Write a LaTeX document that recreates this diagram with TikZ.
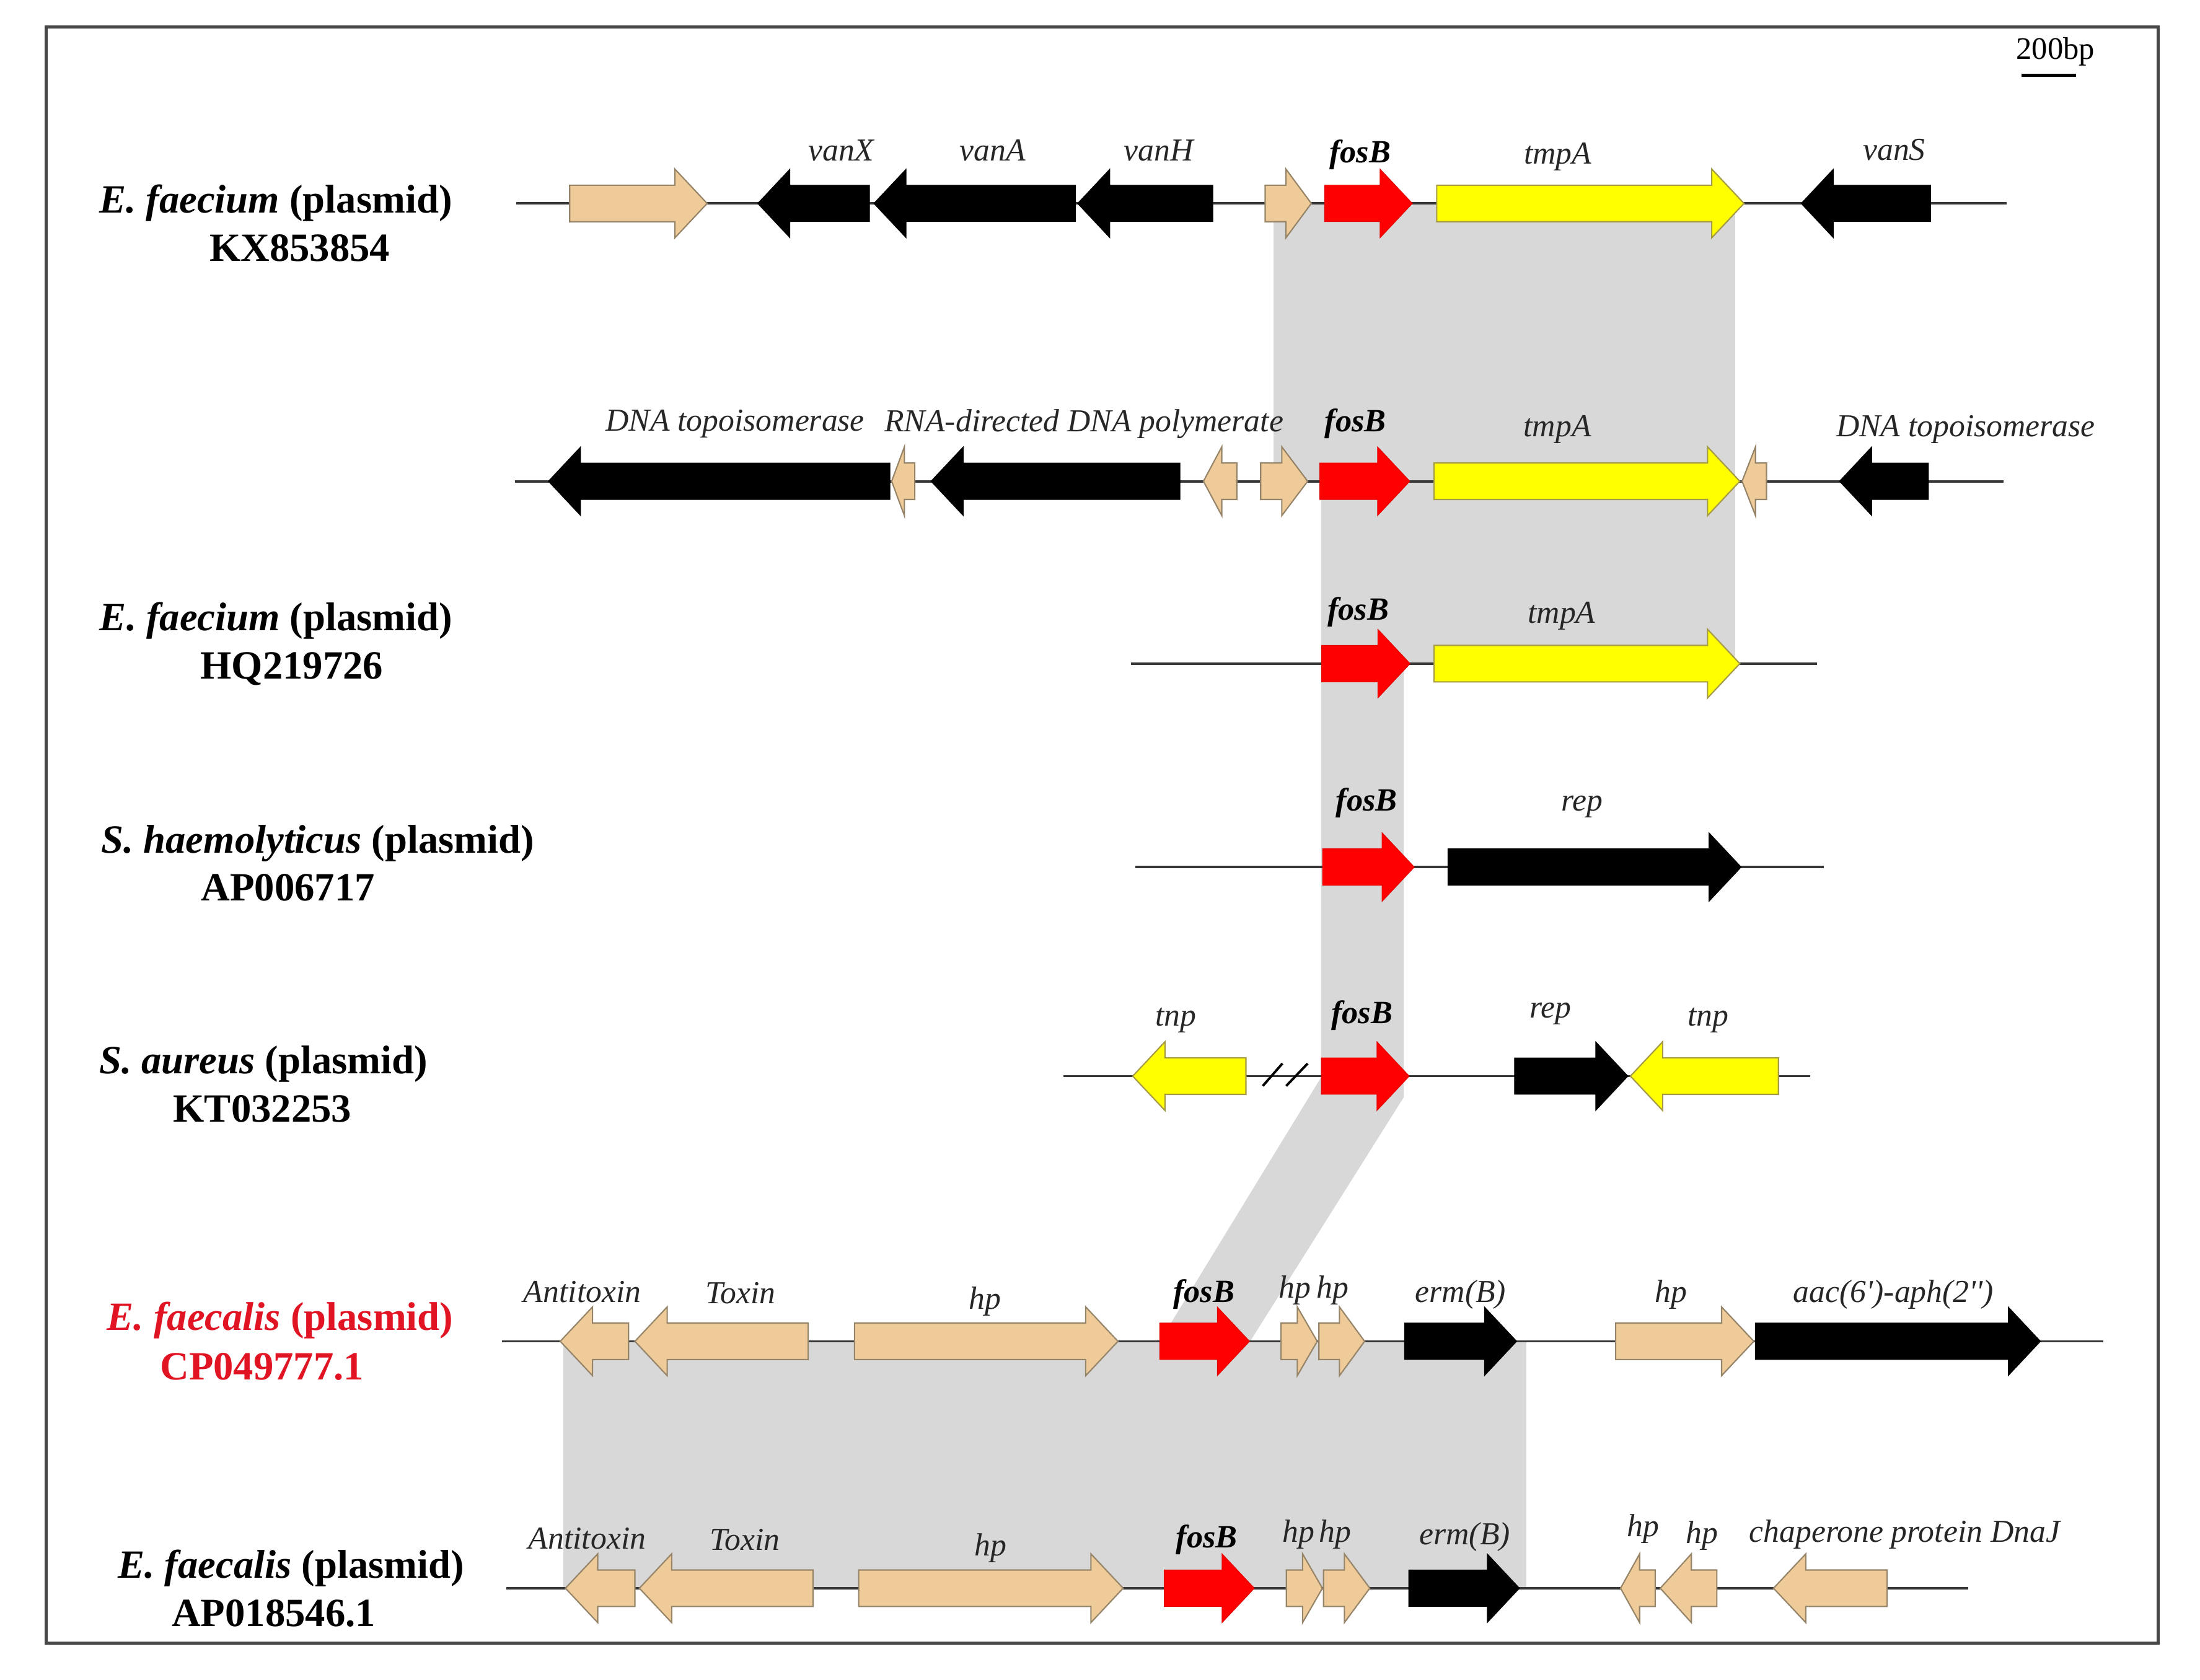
\documentclass[tikz,border=0pt]{standalone}
\usepackage{fontspec}
\setmainfont{Liberation Serif}
\definecolor{tanf}{RGB}{238,203,152}
\definecolor{tand}{RGB}{150,132,105}
\definecolor{yelf}{RGB}{255,255,0}
\definecolor{yeld}{RGB}{165,155,70}
\definecolor{redf}{RGB}{255,0,0}
\definecolor{shadec}{RGB}{216,216,216}
\definecolor{bbc}{RGB}{55,55,55}
\definecolor{framec}{RGB}{70,70,70}
\definecolor{lblred}{RGB}{225,20,35}
\newcommand{\gene}[4]{% #1 tail x, #2 tip x, #3 y, #4 style
  \pgfmathsetmacro\gL{abs(#2-#1)}%
  \pgfmathsetmacro\gH{min(23,0.55*\gL)}%
  \pgfmathsetmacro\gB{(#2>#1) ? (#2-\gH) : (#2+\gH)}%
  \filldraw[#4] (#1,#3-13) -- (\gB,#3-13) -- (\gB,#3-24.5) -- (#2,#3) -- (\gB,#3+24.5) -- (\gB,#3+13) -- (#1,#3+13) -- cycle;
}
\tikzset{
  tang/.style={fill=tanf, draw=tand, line width=0.6pt, line join=miter},
  blkg/.style={fill=black, draw=black, line width=0.3pt, line join=miter},
  redg/.style={fill=redf, draw=red!90!black, line width=0.3pt, line join=miter},
  yelg/.style={fill=yelf, draw=yeld, line width=0.6pt, line join=miter},
  backbone/.style={draw=bbc, line width=1.1pt},
  shadearea/.style={fill=shadec},
  gl/.style={font=\fontsize{14.7}{16}\selectfont\itshape, inner sep=0pt, anchor=base, text=black!85},
  fb/.style={font=\fontsize{14.9}{16}\selectfont\bfseries\itshape, inner sep=0pt, anchor=base},
  sp/.style={font=\fontsize{18.4}{20}\selectfont\bfseries, inner sep=0pt, anchor=base},
  spred/.style={sp, text=lblred},
  scaletxt/.style={font=\fontsize{14.4}{16}\selectfont, inner sep=0pt, anchor=base},
}
\begin{document}
\begin{tikzpicture}[x=0.02264cm, y=-0.02264cm]
\useasboundingbox (0,0) rectangle (1568,1197);
% frame
\draw[framec, line width=1.4pt] (32.8,19.1) rectangle (1538,1171);
% shaded homology regions
\fill[shadearea] (907.7,145) -- (1236.7,145) -- (1236.7,473) -- (1000.5,473) -- (1000.5,782) -- (891,956) -- (826.6,956) -- (941.5,768) -- (941.5,343) -- (907.7,343) -- cycle;
\fill[shadearea] (401.6,956) rectangle (1088,1132);
% scale bar
\node[scaletxt] (sbt) at (1465,42) {200bp};
\coordinate (sba) at (1440.8,53.7);
\coordinate (sbb) at (1479.7,53.7);
\draw[black, line width=1.3pt] (sba) -- (sbb);
% backbones
\draw[backbone] (368,145) -- (1430,145);
\draw[backbone] (367,343) -- (1428,343);
\draw[backbone] (806,473) -- (1295,473);
\draw[backbone] (809,618) -- (1300,618);
\draw[backbone] (758,767) -- (1290,767);
\draw[backbone] (357.8,956) -- (1499,956);
\draw[backbone] (361,1132) -- (1403,1132);
% row 1
\gene{406}{504}{145}{tang}
\gene{619.7}{540}{145}{blkg}
\gene{766.6}{622.8}{145}{blkg}
\gene{864.4}{768}{145}{blkg}
\gene{901.7}{934.6}{145}{tang}
\gene{944}{1006.6}{145}{redg}
\gene{1024}{1243}{145}{yelg}
\gene{1376}{1283.7}{145}{blkg}
% row 2
\gene{634.3}{390.8}{343}{blkg}
\gene{652}{635.5}{343}{tang}
\gene{841}{663.5}{343}{blkg}
\gene{881.5}{857.7}{343}{tang}
\gene{898.5}{932}{343}{tang}
\gene{940.6}{1004.8}{343}{redg}
\gene{1022}{1240}{343}{yelg}
\gene{1259}{1241.6}{343}{tang}
\gene{1374.4}{1311}{343}{blkg}
% row 3
\gene{942}{1005}{473}{redg}
\gene{1022}{1240}{473}{yelg}
% row 4
\gene{942.6}{1008}{618}{redg}
\gene{1032}{1241}{618}{blkg}
% row 5
\gene{888}{807.3}{767}{yelg}
\gene{941.7}{1004.4}{767}{redg}
\gene{1079.4}{1160.3}{767}{blkg}
\gene{1267.5}{1162}{767}{yelg}
\coordinate (s1a) at (900,774);
\coordinate (s1b) at (914,758);
\coordinate (s2a) at (916.7,774);
\coordinate (s2b) at (932,758);
\draw[black, line width=1.1pt] (s1a) -- (s1b);
\draw[black, line width=1.1pt] (s2a) -- (s2b);
% row 6
\gene{448}{399.3}{956}{tang}
\gene{576}{452.5}{956}{tang}
\gene{609}{796.8}{956}{tang}
\gene{826.6}{890.6}{956}{redg}
\gene{913}{938.8}{956}{tang}
\gene{940}{972.6}{956}{tang}
\gene{1001}{1081}{956}{blkg}
\gene{1151.5}{1250}{956}{tang}
\gene{1251}{1454.3}{956}{blkg}
% row 7
\gene{452.5}{403}{1132}{tang}
\gene{579.5}{455.7}{1132}{tang}
\gene{612}{800.5}{1132}{tang}
\gene{829.8}{894}{1132}{redg}
\gene{916.8}{942.5}{1132}{tang}
\gene{943.3}{976.3}{1132}{tang}
\gene{1004}{1083}{1132}{blkg}
\gene{1179.7}{1155}{1132}{tang}
\gene{1223.6}{1183.3}{1132}{tang}
\gene{1345}{1264}{1132}{tang}
% species labels
\node[sp] (sp1a) at (196.5,151.6) {\textit{E. faecium} (plasmid)};
\node[sp] (sp1b) at (213.7,186.3) {KX853854};
\node[sp] (sp3a) at (196.8,449.5) {\textit{E. faecium} (plasmid)};
\node[sp] (sp3b) at (208,483.7) {HQ219726};
\node[sp] (sp4a) at (226.5,608) {\textit{S. haemolyticus} (plasmid)};
\node[sp] (sp4b) at (205.3,642.2) {AP006717};
\node[sp] (sp5a) at (187.8,765.2) {\textit{S. aureus} (plasmid)};
\node[sp] (sp5b) at (187,799.5) {KT032253};
\node[spred] (sp6a) at (199.7,948) {\textit{E. faecalis} (plasmid)};
\node[spred] (sp6b) at (186.7,983.6) {CP049777.1};
\node[sp] (sp7a) at (207.5,1124.6) {\textit{E. faecalis} (plasmid)};
\node[sp] (sp7b) at (195,1159) {AP018546.1};
% gene labels row 1
\node[gl] (g1a) at (599.5,114.5) {vanX};
\node[gl] (g1b) at (707.5,114.5) {vanA};
\node[gl] (g1c) at (825.7,114.5) {vanH};
\node[fb] (g1d) at (969.3,116) {fosB};
\node[gl] (g1e) at (1110.3,117) {tmpA};
\node[gl] (g1f) at (1350,114) {vanS};
% row 2
\node[gl] (g2a) at (523.9,307) {DNA topoisomerase};
\node[gl] (g2b) at (772.6,307.5) {RNA-directed DNA polymerate};
\node[fb] (g2c) at (966,307.5) {fosB};
\node[gl] (g2d) at (1110,311) {tmpA};
\node[gl] (g2e) at (1401,311) {DNA topoisomerase};
% row 3
\node[fb] (g3a) at (968,442) {fosB};
\node[gl] (g3b) at (1113,444) {tmpA};
% row 4
\node[fb] (g4a) at (974,578) {fosB};
\node[gl] (g4b) at (1127.7,578) {rep};
% row 5
\node[gl] (g5a) at (838,731) {tnp};
\node[fb] (g5b) at (970.7,729.5) {fosB};
\node[gl] (g5c) at (1105,725.5) {rep};
\node[gl] (g5d) at (1217.5,731) {tnp};
% row 6
\node[gl] (g6a) at (415,928.4) {Antitoxin};
\node[gl] (g6b) at (527.8,929) {Toxin};
\node[gl] (g6c) at (702,933) {hp};
\node[fb] (g6d) at (858,928) {fosB};
\node[gl] (g6e) at (923,925) {hp};
\node[gl] (g6f) at (949.8,925) {hp};
\node[gl] (g6g) at (1041,928) {erm(B)};
\node[gl] (g6h) at (1191,928) {hp};
\node[gl] (g6i) at (1349.5,928) {\addfontfeatures{Ligatures=TeXOff}aac(6')-aph(2'')};
% row 7
\node[gl] (g7a) at (418.5,1104) {Antitoxin};
\node[gl] (g7b) at (531,1105) {Toxin};
\node[gl] (g7c) at (706,1109) {hp};
\node[fb] (g7d) at (860,1103) {fosB};
\node[gl] (g7e) at (925.5,1099) {hp};
\node[gl] (g7f) at (951.4,1099) {hp};
\node[gl] (g7g) at (1044,1101) {erm(B)};
\node[gl] (g7h) at (1171,1095) {hp};
\node[gl] (g7i) at (1213,1100) {hp};
\node[gl] (g7j) at (1357.5,1099) {chaperone protein DnaJ};
\end{tikzpicture}
\end{document}
